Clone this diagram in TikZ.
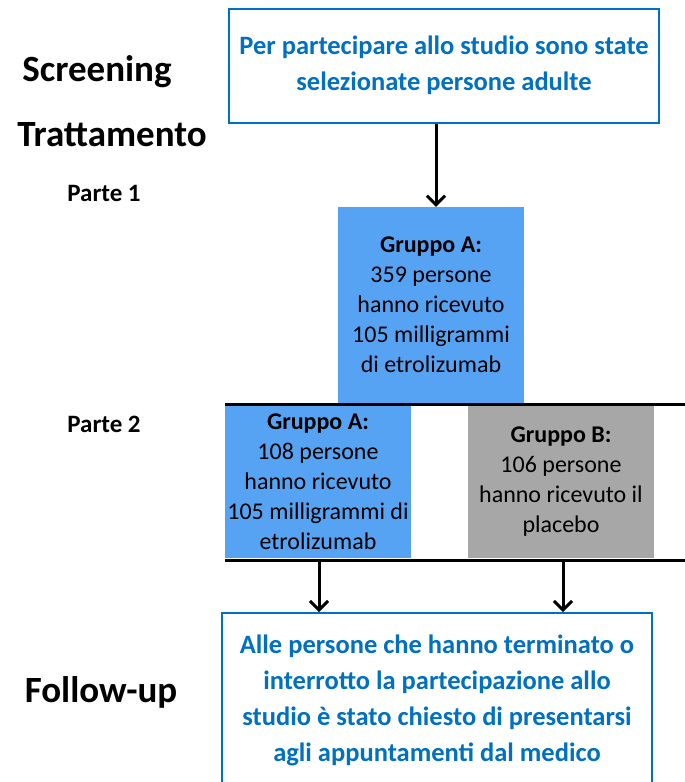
\documentclass[tikz,border=0pt]{standalone}
\usepackage{fontspec}
\setmainfont{Carlito}
\usepackage{xcolor}
\usetikzlibrary{arrows.meta}

\definecolor{studyblue}{RGB}{0,112,192}
\definecolor{groupblue}{RGB}{86,163,244}
\definecolor{groupgray}{RGB}{167,167,167}

\begin{document}
\begin{tikzpicture}[
  x=1pt, y=-1pt,
  every node/.style={font=\fontsize{24}{30}\selectfont},
  phase/.style={font=\fontsize{37}{44}\selectfont\bfseries},
  part/.style={font=\fontsize{25}{30}\selectfont\bfseries},
  infobox/.style={draw=studyblue, line width=2pt, align=center, text=studyblue,
    minimum width=430pt, font=\fontsize{26.5}{36}\selectfont\bfseries},
  groupbox/.style={align=center, minimum width=186pt, inner sep=0pt},
  arrow/.style={-{Straight Barb[length=9pt, width=18pt]}, line width=3pt},
  rule/.style={line width=3pt},
]

\clip (0,0) rectangle (685,782);
\fill[white] (0,0) rectangle (685,782);

\node[phase] (screening) at (97,72) {Screening};
\node[phase] (treatment) at (112,135) {Trattamento};
\node[part] (part1) at (104,193) {Parte 1};
\node[part] (part2) at (104,424) {Parte 2};
\node[phase] (followup) at (101,692) {Follow-up};

\node[infobox, minimum height=114pt] (screen) at (444,65.5) {
    \raisebox{-3pt}{Per partecipare allo studio sono state}\\
    \raisebox{-3pt}{selezionate persone adulte}
};

\node[groupbox, fill=groupblue, minimum height=196pt] (grpA1) at (431,305) {
    \textbf{Gruppo A:}\\
    359 persone\\
    hanno ricevuto\\
    105 milligrammi\\
    di etrolizumab
};

\coordinate (top left) at (225,404);
\coordinate (top right) at (685,404);
\coordinate (bottom left) at (225,560);
\coordinate (bottom right) at (685,560);

\node[groupbox, fill=groupblue, minimum height=153pt] (grpA2) at (318,481.5) {
    \textbf{Gruppo A:}\\
    108 persone\\
    hanno ricevuto\\
    105 milligrammi di\\
    etrolizumab
};

\node[groupbox, fill=groupgray, minimum height=153pt] (grpB) at (561,481.5) {
    \textbf{Gruppo B:}\\
    106 persone\\
    hanno ricevuto il\\
    placebo
};

\draw[rule] (top left) -- (top right);
\draw[rule] (bottom left) -- (bottom right);

\node[infobox, minimum height=174pt] (final) at (437,700) {
    Alle persone che hanno terminato o\\
    interrotto la partecipazione allo\\
    studio è stato chiesto di presentarsi\\
    agli appuntamenti dal medico
};

\draw[arrow] (screen.south -| 436,0) -- (grpA1.north -| 436,0);
\draw[arrow] (bottom left -| 319,0) -- (final.north -| 319,0);
\draw[arrow] (bottom left -| 563,0) -- (final.north -| 563,0);

\end{tikzpicture}
\end{document}
